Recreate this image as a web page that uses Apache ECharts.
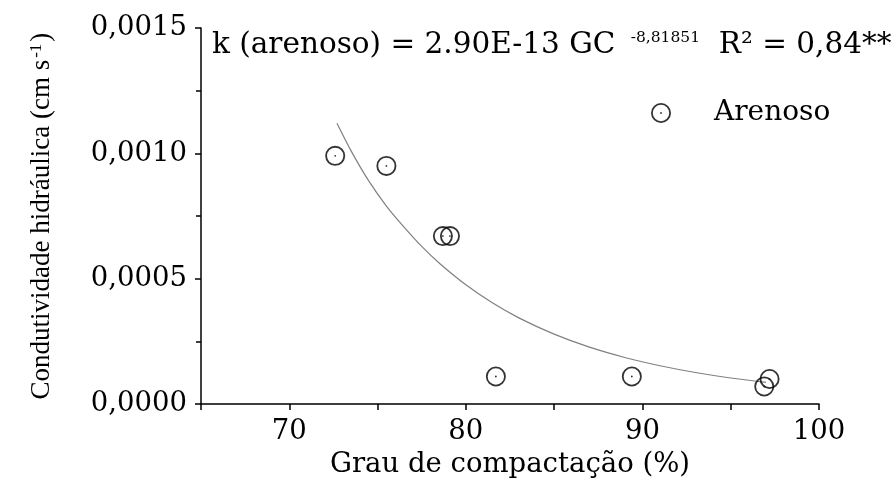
<!DOCTYPE html>
<html>
<head>
<meta charset="utf-8">
<script src="https://cdn.jsdelivr.net/npm/echarts@6/dist/echarts.min.js"></script>
<style>
  html, body { margin: 0; padding: 0; background: #fff; }
  #chart { width: 896px; height: 484px; }
</style>
</head>
<body>
<div id="chart"></div>
<script>
// measured points (Arenoso)
const gcValues = [72.6, 75.5, 78.7, 79.1, 81.7, 89.4, 96.9, 97.2];
const kValues = [0.00099, 0.00095, 0.00067, 0.00067, 0.00011, 0.00011, 0.00007, 0.00010];

// fitted curve
const fitGC = [72.7, 73.5, 74.5, 75.5, 76.5, 77.5, 78.5, 80, 81.5, 83, 85, 87, 89, 91, 93, 95, 97];
const fitK = [0.00112, 0.00101, 0.00089, 0.00079, 0.000706, 0.000629, 0.000562, 0.000476, 0.000404,
  0.000344, 0.000279, 0.000227, 0.000186, 0.000153, 0.000126, 0.000104, 0.000087];

const xTicks = [70, 80, 90, 100];

const WIDE = "'DejaVu Serif', serif";
const SERIF = "'Liberation Serif', serif";

// ring with a dot in the middle
const ringSymbol =
  "path://M0,-10A10,10 0 1,1 0,10A10,10 0 1,1 0,-10Z" +
  "M0,-8.2A8.2,8.2 0 1,0 0,8.2A8.2,8.2 0 1,0 0,-8.2Z" +
  "M0,-0.9A0.9,0.9 0 1,1 0,0.9A0.9,0.9 0 1,1 0,-0.9Z";

const chart = echarts.init(document.getElementById("chart"));

chart.setOption({
  backgroundColor: "#fff",
  animation: false,
  title: {
    left: 207,
    top: 25,
    text: "{a|k (arenoso) = 2.90E-13 GC }{s|-8,81851}{a|  R² = 0,84**}",
    textStyle: {
      rich: {
        a: { fontFamily: WIDE, fontSize: 29.5, color: "#000", fontWeight: "normal" },
        s: { fontFamily: WIDE, fontSize: 15.5, color: "#000", fontWeight: "normal", verticalAlign: "top", padding: [0, 0, 14, 6] },
      },
    },
  },
  legend: {
    left: 646,
    top: 94,
    itemWidth: 20,
    itemHeight: 20,
    data: [{ name: "Arenoso", icon: ringSymbol }],
    textStyle: {
      fontFamily: WIDE,
      fontSize: 28,
      color: "#000",
      padding: [0, 0, 0, 38],
    },
  },
  grid: {
    left: 201,
    right: 77,
    top: 28,
    bottom: 79,
    containLabel: false,
  },
  xAxis: {
    type: "value",
    min: 65,
    max: 100,
    interval: 5,
    name: "Grau de compactação (%)",
    nameLocation: "middle",
    nameGap: 46,
    nameTextStyle: { fontFamily: WIDE, fontSize: 27.5, color: "#000" },
    axisLine: { lineStyle: { color: "#000", width: 1.5 } },
    axisTick: { length: 6, lineStyle: { color: "#000", width: 1.5 } },
    axisLabel: {
      margin: 14,
      fontFamily: WIDE,
      fontSize: 27.5,
      color: "#000",
      formatter: (v) => (xTicks.indexOf(v) >= 0 ? String(v) : ""),
    },
    splitLine: { show: false },
  },
  yAxis: {
    type: "value",
    min: 0,
    max: 0.0015,
    interval: 0.0005,
    name: "{n|Condutividade hidráulica (cm s}{s|-1}{n|)}",
    nameLocation: "middle",
    nameGap: 146,
    nameTextStyle: {
      rich: {
        n: { fontFamily: SERIF, fontSize: 27, color: "#000" },
        s: { fontFamily: SERIF, fontSize: 17, color: "#000", verticalAlign: "top", padding: [0, 2, 10, 2] },
      },
    },
    axisLine: { show: true, lineStyle: { color: "#000", width: 1.5 } },
    axisTick: { show: true, length: 6, lineStyle: { color: "#000", width: 1.5 } },
    minorTick: { show: true, splitNumber: 2, length: 5, lineStyle: { color: "#000", width: 1.5 } },
    axisLabel: {
      margin: 14,
      fontFamily: WIDE,
      fontSize: 27.5,
      color: "#000",
      formatter: (v) => v.toFixed(4).replace(".", ","),
    },
    splitLine: { show: false },
  },
  series: [
    {
      name: "Arenoso",
      type: "scatter",
      symbol: ringSymbol,
      symbolSize: 20,
      itemStyle: { color: "#000" },
      data: gcValues.map((x, i) => [x, kValues[i]]),
      z: 3,
    },
    {
      name: "ajuste",
      type: "line",
      smooth: 0.3,
      showSymbol: false,
      lineStyle: { color: "#808080", width: 1.2 },
      data: fitGC.map((x, i) => [x, fitK[i]]),
      z: 2,
    },
  ],
});
</script>
</body>
</html>
